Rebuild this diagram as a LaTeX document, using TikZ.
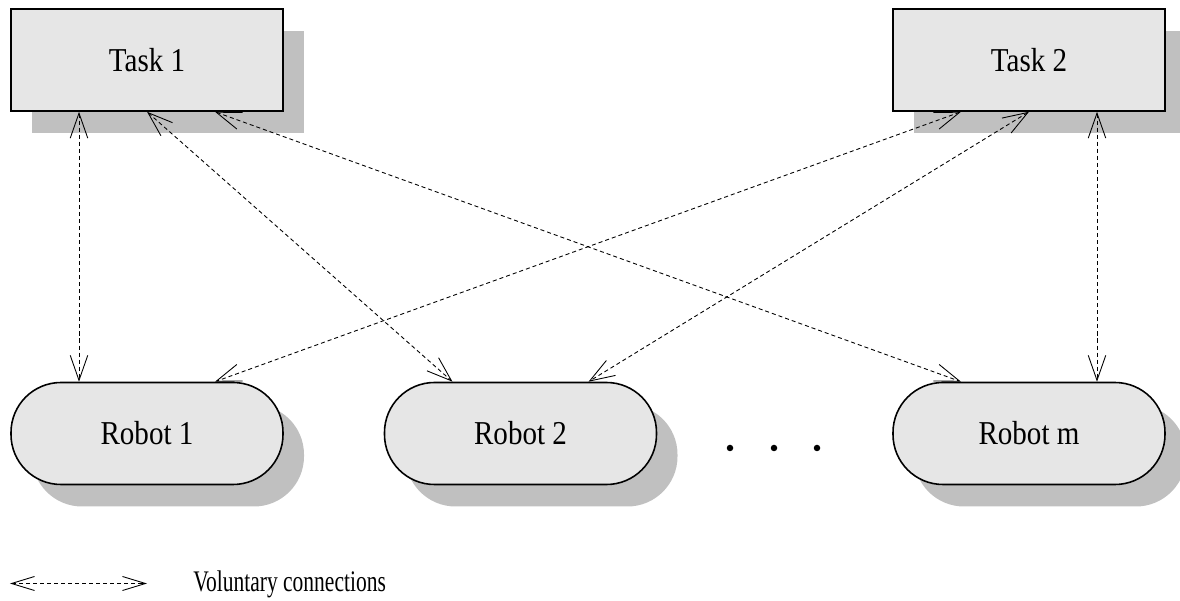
\documentclass[tikz,border=0pt]{standalone}
\usepackage{fontspec, graphicx}
\setmainfont{Liberation Serif}
\usetikzlibrary{arrows.meta, shadows}
\definecolor{boxgray}{RGB}{230,230,230}
\definecolor{shadowgray}{RGB}{192,192,192}
\newcommand{\narrowtext}[2][0.87]{\scalebox{#1}[1]{#2}}
\tikzset{
  task/.style={draw, line width=0.9pt, fill=boxgray, minimum width=5.44cm, minimum height=2.04cm,
    drop shadow={shadow xshift=0.42cm, shadow yshift=-0.44cm, fill=shadowgray, opacity=1},
    font=\fontsize{19}{23}\selectfont},
  robot/.style={task, rounded corners=1cm},
  link/.style={dash pattern=on 2.3pt off 1.7pt, line width=0.5pt,
    {Straight Barb[length=0.5cm, width=0.35cm]}-{Straight Barb[length=0.5cm, width=0.35cm]}},
  keyarrow/.style={link, {Straight Barb[length=0.46cm, width=0.28cm]}-{Straight Barb[length=0.46cm, width=0.28cm]}}
}

\begin{document}
\begin{tikzpicture}
\useasboundingbox (0, 0) rectangle (23.6, -12.02);
\node [task] (t1) at (2.94, -1.2) {\narrowtext{Task 1}};
\node [task] (t2) at (20.58, -1.2) {\narrowtext{Task 2}};
\node [robot] (r1) at (2.94, -8.67) {\narrowtext{Robot 1}};
\node [robot] (r2) at (10.41, -8.67) {\narrowtext{Robot 2}};
\node [robot] (rm) at (20.58, -8.67) {\narrowtext{Robot m}};
\foreach \x in {14.6, 15.48, 16.34}{\fill (\x, -8.96) circle (0.065);}
\draw [link] ([xshift=-1.36cm]t1.south) -- ([xshift=-1.36cm]r1.north);
\draw [link] (t1.south) -- ([xshift=-1.36cm]r2.north);
\draw [link] ([xshift=1.36cm]t1.south) -- ([xshift=-1.36cm]rm.north);
\draw [link] ([xshift=-1.36cm]t2.south) -- ([xshift=1.36cm]r1.north);
\draw [link] (t2.south) -- ([xshift=1.36cm]r2.north);
\draw [link] ([xshift=1.36cm]t2.south) -- ([xshift=1.36cm]rm.north);
\coordinate (ka) at (0.2, -11.67);
\coordinate (kb) at (2.94, -11.67);
\draw [keyarrow] (ka) -- (kb);
\node [anchor=base west, inner sep=0, font=\fontsize{17}{20}\selectfont] (key) at (3.86, -11.84) {\narrowtext[0.72]{Voluntary connections}};
\end{tikzpicture}
\end{document}
